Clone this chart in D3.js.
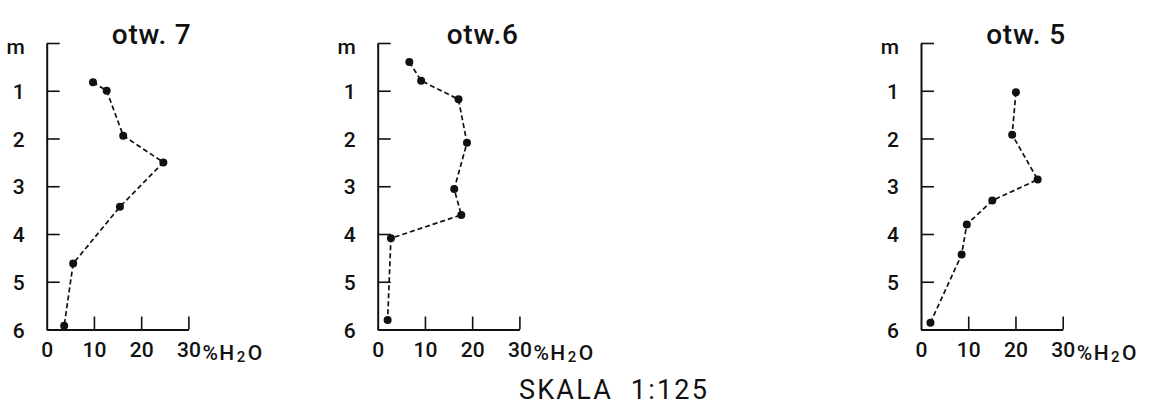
<!DOCTYPE html>
<html><head><meta charset="utf-8">
<script src="https://cdn.jsdelivr.net/npm/d3@7"></script>
<style>
html,body{margin:0;padding:0;background:#fff;}
svg{display:block;}
text{font-family:Roboto,"Liberation Sans",sans-serif;fill:#111;}
</style></head>
<body>
<svg id="chart" width="1150" height="407"></svg>
<script>
// ---- data ----
const titles = ["otw. 7", "otw.6", "otw. 5"];
const depth7 = [0.82, 1.00, 1.94, 2.50, 3.43, 4.62, 5.92];
const water7 = [9.8, 12.7, 16.2, 24.7, 15.5, 5.6, 3.7];
const depth6 = [0.40, 0.79, 1.18, 2.09, 3.06, 3.60, 4.09, 5.80];
const water6 = [6.7, 9.2, 17.1, 18.9, 16.2, 17.7, 2.8, 2.1];
const depth5 = [1.03, 1.92, 2.86, 3.30, 3.80, 4.43, 5.86];
const water5 = [20.1, 19.3, 24.7, 15.1, 9.7, 8.6, 2.0];
const depthTicks = [0, 1, 2, 3, 4, 5, 6];
const depthLabels = ["m", "1", "2", "3", "4", "5", "6"];
const waterTicks = [0, 10, 20, 30];
const waterLabels = ["0", "10", "20", "30"];
const axisUnit = ["%H", "2", "O"];
const scaleText = "SKALA  1:125";

// ---- layout ----
const panelX = [46.7, 377.7, 921];
const panelW = 141.7;
const topY = 43, botY = 329.5;
const series = [[depth7, water7], [depth6, water6], [depth5, water5]];
const FONT = "Roboto, Liberation Sans, sans-serif";

const svg = d3.select("#chart");

series.forEach(([dep, wat], i) => {
  const x = d3.scaleLinear().domain([0, 30]).range([panelX[i], panelX[i] + panelW]);
  const y = d3.scaleLinear().domain([0, 6]).range([topY, botY]);
  const g = svg.append("g");

  // y axis
  const ya = g.append("g").attr("transform", `translate(${panelX[i]},0)`)
    .call(d3.axisLeft(y).tickValues(depthTicks).tickFormat((d, k) => depthLabels[k])
      .tickSizeInner(-13).tickSizeOuter(0).tickPadding(22));
  ya.attr("font-family", FONT).attr("font-size", 21);
  ya.select(".domain").attr("stroke", "#111").attr("stroke-width", 2);
  ya.selectAll(".tick line").attr("stroke", "#111").attr("stroke-width", 1.6);
  ya.selectAll(".tick text").attr("fill", "#111").style("font-weight", 500)
    .attr("dy", (d) => d === 0 ? "0.5em" : "0.36em");

  // x axis
  const xa = g.append("g").attr("transform", `translate(0,${botY})`)
    .call(d3.axisBottom(x).tickValues(waterTicks).tickFormat((d, k) => waterLabels[k])
      .tickSizeInner(-13).tickSizeOuter(0).tickPadding(13));
  xa.attr("font-family", FONT).attr("font-size", 21);
  xa.select(".domain").attr("stroke", "#111").attr("stroke-width", 2);
  xa.selectAll(".tick line").attr("stroke", "#111").attr("stroke-width", 1.6)
    .attr("opacity", d => d === 0 ? 0 : 1);
  xa.selectAll(".tick text").attr("fill", "#111").style("font-weight", 500);

  // unit label after 30
  const ut = g.append("text").attr("x", x(30) + 14).attr("y", botY + 30)
    .attr("font-size", 21).attr("letter-spacing", 1.5).style("font-weight", 500);
  ut.append("tspan").text(axisUnit[0]);
  ut.append("tspan").attr("font-size", 15).attr("dy", 2).attr("dx", 1).text(axisUnit[1]);
  ut.append("tspan").attr("dy", -2).attr("dx", 1).text(axisUnit[2]);

  // title
  g.append("text").attr("x", x(0) + 105).attr("y", 44).attr("text-anchor", "middle")
    .attr("font-size", 28).attr("letter-spacing", 0.8).style("font-weight", 500).text(titles[i]);

  // data line
  const pts = dep.map((d, k) => [wat[k], d]);
  g.append("path").datum(pts)
    .attr("d", d3.line().x(d => x(d[0])).y(d => y(d[1])))
    .attr("fill", "none").attr("stroke", "#111").attr("stroke-width", 1.7)
    .attr("stroke-dasharray", "5,3");
  g.selectAll("circle").data(pts).join("circle")
    .attr("cx", d => x(d[0])).attr("cy", d => y(d[1])).attr("r", 4).attr("fill", "#111");
});

svg.append("text").attr("x", 614).attr("y", 399).attr("text-anchor", "middle")
  .attr("font-size", 27).style("font-weight", 400).attr("letter-spacing", 2.2)
  .attr("xml:space", "preserve").style("white-space", "pre").text(scaleText);
</script>
</body></html>
